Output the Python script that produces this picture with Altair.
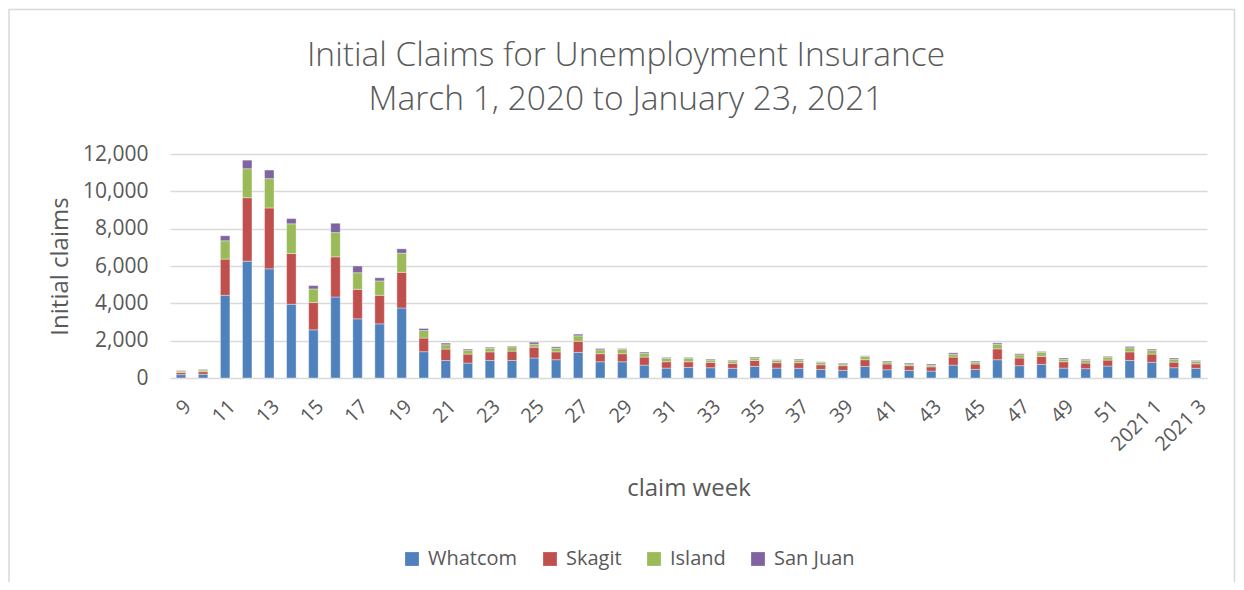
import altair as alt
import pandas as pd

title_lines = ["Initial Claims for Unemployment Insurance", "March 1, 2020 to January 23, 2021"]

weeks = [str(w) for w in range(9, 53)] + ["2021 1", "2021 2", "2021 3"]

whatcom = [180, 200, 4430, 6260, 5850, 3950, 2580, 4340, 3170, 2900, 3750, 1410,
           940, 800, 940, 940, 1070, 980, 1370, 870, 870, 690, 530, 570,
           550, 520, 620, 530, 520, 460, 410, 620, 440, 410, 370, 690,
           460, 980, 660, 730, 530, 500, 640, 940,
           840, 550, 520]
skagit = [110, 140, 1940, 3400, 3260, 2720, 1460, 2150, 1580, 1530, 1910, 730,
          610, 480, 460, 500, 580, 420, 600, 430, 430, 430, 340, 300,
          290, 260, 320, 290, 300, 250, 250, 360, 310, 250, 230, 430,
          290, 580, 410, 430, 340, 300, 320, 460,
          440, 300, 240]
island = [80, 90, 980, 1550, 1570, 1590, 730, 1300, 890, 770, 1030, 400,
          230, 210, 200, 230, 160, 200, 290, 210, 230, 210, 180, 180,
          120, 130, 130, 120, 140, 130, 100, 180, 110, 90, 90, 160,
          110, 250, 170, 210, 140, 140, 160, 220,
          210, 160, 130]
san_juan = [30, 30, 270, 460, 460, 280, 180, 500, 360, 170, 230, 110,
            90, 60, 50, 40, 110, 70, 90, 70, 50, 60, 50, 50,
            50, 40, 50, 40, 50, 30, 40, 30, 50, 50, 60, 70,
            50, 70, 60, 50, 60, 60, 40, 70,
            60, 60, 50]

counties = ["Whatcom", "Skagit", "Island", "San Juan"]
colors = ["#4F81BD", "#C0504D", "#9BBB59", "#8064A2"]
series = [whatcom, skagit, island, san_juan]

rows = []
for ci, (name, vals) in enumerate(zip(counties, series)):
    for w, v in zip(weeks, vals):
        rows.append({"week": w, "county": name, "claims": v, "order": ci})
df = pd.DataFrame(rows)

FONT = "Open Sans"
TXT = "#595959"

bars = alt.Chart(df).mark_bar(stroke="white", strokeWidth=0.6, strokeOpacity=0.6).encode(
    x=alt.X("week:N", sort=weeks,
            scale=alt.Scale(paddingInner=0.57, paddingOuter=0.285),
            axis=alt.Axis(title="claim week", values=weeks[::2], labelAngle=-45,
                          labelFontSize=20, labelColor=TXT, labelFont=FONT,
                          labelPadding=18, ticks=False, domainColor="#d9d9d9",
                          titleFontSize=24, titleColor=TXT, titleFont=FONT,
                          titleFontWeight="normal", titleY=110, titleBaseline="middle")),
    y=alt.Y("claims:Q", stack="zero",
            scale=alt.Scale(domain=[0, 12000]),
            axis=alt.Axis(title="Initial claims", values=list(range(0, 12001, 2000)),
                          format=",.0f", labelFontSize=21, labelColor=TXT, labelFont=FONT,
                          labelPadding=22, ticks=False, domain=False,
                          gridColor="#d9d9d9", gridWidth=1.5,
                          titleFontSize=24, titleColor=TXT, titleFont=FONT,
                          titleFontWeight="normal", titleX=-110, titleY=112,
                          titleAngle=-90, titleAlign="center", titleBaseline="middle")),
    color=alt.Color("county:N", sort=counties,
                    scale=alt.Scale(domain=counties, range=colors),
                    legend=alt.Legend(title=None, orient="none", legendX=232, legendY=395,
                                      direction="horizontal", symbolType="square",
                                      symbolSize=190, symbolStrokeWidth=0,
                                      labelFontSize=20, labelColor=TXT, labelFont=FONT,
                                      labelOffset=6, columnPadding=22, padding=0)),
    order=alt.Order("order:Q", sort="ascending"),
)

frame = alt.Chart(alt.Data(values=[{}])).mark_rect(
    fill=None, stroke="#d9d9d9", strokeWidth=1.5
).encode(
    x=alt.value(-161), x2=alt.value(1064.5), y=alt.value(-144.5), y2=alt.value(600)
)

def title_text(line, yv):
    return alt.Chart(alt.Data(values=[{"t": line}])).mark_text(
        font=FONT, fontSize=33.5, fontWeight=300, color=TXT, align="center", baseline="middle"
    ).encode(text="t:N", x=alt.value(456), y=alt.value(yv))

t1 = title_text(title_lines[0], -98)
t2 = title_text(title_lines[1], -54)

chart = alt.layer(frame, bars, t1, t2).properties(
    width=1037, height=224,
    autosize=alt.AutoSizeParams(type="none"),
    padding={"left": 162, "top": 146, "right": 29, "bottom": 204},
).configure_view(stroke=None)

chart.save("out.html", embed_options={"renderer": "svg", "actions": False})
